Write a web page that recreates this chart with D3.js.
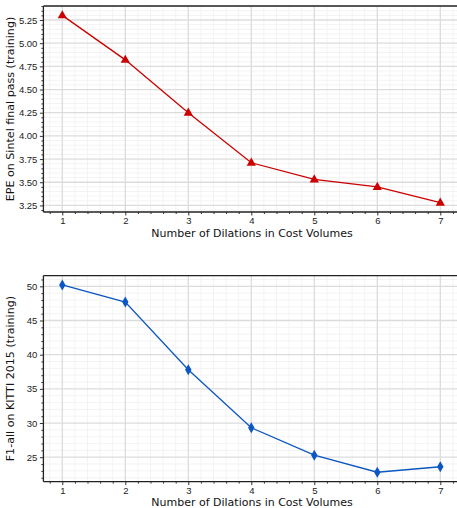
<!DOCTYPE html>
<html>
<head>
<meta charset="utf-8">
<script src="https://cdn.jsdelivr.net/npm/d3@7"></script>
<style>
  body { margin: 0; background: #fff; overflow: hidden; }
  svg { display: block; font-family: "DejaVu Sans", sans-serif; }
  .grid-major line { stroke: #dcdcdc; stroke-width: 1.3; }
  .grid-minor line { stroke: #f0f0f0; stroke-width: 0.8; }
  .axis path { display: none; }
  .axis text { fill: #222; font-size: 9.5px; }
  .axis line { stroke: #333; }
  .spine { stroke: #222; stroke-width: 1.3; }
</style>
</head>
<body>
<script>
const w = 457;
const h = 508;

const dilations = [1, 2, 3, 4, 5, 6, 7];
const epeSintel = [5.30, 4.82, 4.25, 3.71, 3.53, 3.45, 3.28];
const f1Kitti = [50.2, 47.7, 37.8, 29.3, 25.3, 22.8, 23.6];

const sintelTicks = [3.25, 3.5, 3.75, 4.0, 4.25, 4.5, 4.75, 5.0, 5.25];
const kittiTicks = [25, 30, 35, 40, 45, 50];

const xLabel = 'Number of Dilations in Cost Volumes';

const svg = d3.select('body')
  .append('svg')
  .attr('width', w)
  .attr('height', h);

const xScale = d3.scaleLinear()
  .domain([0.7, 7.3])
  .range([43.4, 459.2]);

function panel(opts) {
  const g = svg.append('g');
  const top = opts.top;
  const bottom = opts.bottom;
  const left = xScale.range()[0];
  const right = xScale.range()[1];

  const yScale = d3.scaleLinear()
    .domain(opts.domain)
    .range([bottom, top]);

  const xMinor = d3.range(0.8, 7.3, 0.2).filter(v => Math.abs(v - Math.round(v)) > 1e-6);
  const yMinor = d3.range(Math.ceil(opts.domain[0] / opts.minor) * opts.minor, opts.domain[1], opts.minor)
    .filter(v => Math.abs(v / opts.major - Math.round(v / opts.major)) > 1e-6);

  // minor grid
  const gm = g.append('g').attr('class', 'grid-minor');
  gm.selectAll('.vx').data(xMinor).enter().append('line')
    .attr('x1', d => xScale(d)).attr('x2', d => xScale(d))
    .attr('y1', top).attr('y2', bottom);
  gm.selectAll('.hy').data(yMinor).enter().append('line')
    .attr('x1', left).attr('x2', right)
    .attr('y1', d => yScale(d)).attr('y2', d => yScale(d));

  // major grid
  const gM = g.append('g').attr('class', 'grid-major');
  gM.selectAll('.vx').data(dilations).enter().append('line')
    .attr('x1', d => xScale(d)).attr('x2', d => xScale(d))
    .attr('y1', top).attr('y2', bottom);
  gM.selectAll('.hy').data(opts.ticks).enter().append('line')
    .attr('x1', left).attr('x2', right)
    .attr('y1', d => yScale(d)).attr('y2', d => yScale(d));

  // line + markers
  const line = d3.line()
    .x((d, i) => xScale(dilations[i]))
    .y(d => yScale(d));

  g.append('path')
    .datum(opts.values)
    .attr('fill', 'none')
    .attr('stroke', opts.color)
    .attr('stroke-width', 1.3)
    .attr('d', line);

  g.selectAll('.marker')
    .data(opts.values)
    .enter()
    .append('path')
    .attr('transform', (d, i) => 'translate(' + xScale(dilations[i]) + ',' + yScale(d) + ')')
    .attr('d', opts.marker)
    .attr('fill', opts.color);

  // axes
  const xAxis = d3.axisBottom(xScale)
    .tickValues(dilations)
    .tickFormat(d3.format('d'))
    .tickSize(3.5)
    .tickPadding(2);
  g.append('g')
    .attr('class', 'axis')
    .attr('transform', 'translate(0,' + bottom + ')')
    .call(xAxis);
  g.append('g')
    .attr('class', 'axis')
    .attr('transform', 'translate(0,' + bottom + ')')
    .call(d3.axisBottom(xScale).tickValues(xMinor).tickFormat('').tickSize(2));

  const yAxis = d3.axisLeft(yScale)
    .tickValues(opts.ticks)
    .tickFormat(opts.format)
    .tickSize(3.5)
    .tickPadding(2.5);
  g.append('g')
    .attr('class', 'axis')
    .attr('transform', 'translate(' + left + ',0)')
    .call(yAxis);
  g.append('g')
    .attr('class', 'axis')
    .attr('transform', 'translate(' + left + ',0)')
    .call(d3.axisLeft(yScale).tickValues(yMinor).tickFormat('').tickSize(2));

  // spines
  g.append('line').attr('class', 'spine')
    .attr('x1', left).attr('x2', left).attr('y1', top).attr('y2', bottom);
  g.append('line').attr('class', 'spine')
    .attr('x1', left).attr('x2', right).attr('y1', bottom).attr('y2', bottom);
  g.append('line').attr('class', 'spine')
    .attr('x1', left).attr('x2', right).attr('y1', top).attr('y2', top);

  // labels
  g.append('text')
    .attr('x', 252)
    .attr('y', bottom + opts.xLabelGap)
    .attr('text-anchor', 'middle')
    .attr('font-size', '11px')
    .attr('fill', '#111')
    .text(xLabel);

  g.append('text')
    .attr('transform', 'translate(14,' + (top + bottom) / 2 + ') rotate(-90)')
    .attr('text-anchor', 'middle')
    .attr('font-size', '11.1px')
    .attr('fill', '#111')
    .text(opts.yLabel);
}

panel({
  top: 6,
  bottom: 212,
  domain: [3.179, 5.401],
  ticks: sintelTicks,
  major: 0.25,
  minor: 0.05,
  format: d3.format('.2f'),
  values: epeSintel,
  color: '#cc0000',
  marker: 'M0,-5.2L4.6,3L-4.6,3Z',
  yLabel: 'EPE on Sintel final pass (training)',
  xLabelGap: 25
});

panel({
  top: 275.6,
  bottom: 481.6,
  domain: [21.43, 51.57],
  ticks: kittiTicks,
  major: 5,
  minor: 1,
  format: d3.format('d'),
  values: f1Kitti,
  color: '#0a56c2',
  marker: 'M0,-5.5L3.2,0L0,5.5L-3.2,0Z',
  yLabel: 'F1-all on KITTI 2015 (training)',
  xLabelGap: 23.9
});
</script>
</body>
</html>
